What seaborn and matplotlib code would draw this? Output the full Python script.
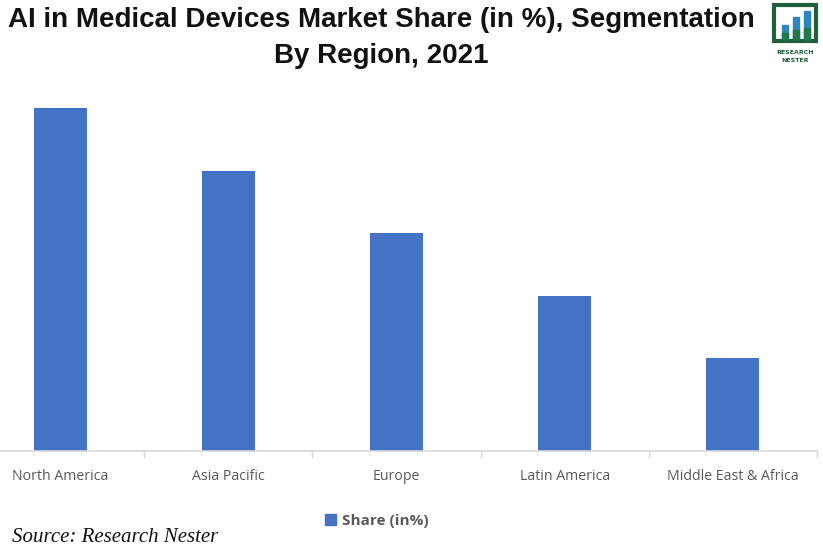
import matplotlib
matplotlib.use('Agg')
import matplotlib.pyplot as plt
import matplotlib.patches as mpatches
import seaborn as sns

regions = ['North America', 'Asia Pacific', 'Europe', 'Latin America', 'Middle East & Africa']
shares = [34.3, 28.0, 21.8, 15.5, 9.3]

sns.set_theme(style='white')
plt.rcParams['font.family'] = ['Open Sans', 'DejaVu Sans']

fig = plt.figure(figsize=(8.23, 5.47), dpi=100)
ax = fig.add_axes([-24 / 823, 96 / 547, 841 / 823, 363 / 547])

sns.barplot(x=regions, y=shares, color='#4472C4', width=0.315, saturation=1,
            linewidth=0, ax=ax)
ax.set_ylim(0, 36.3)
ax.set_xlim(-0.5, 4.5)
ax.set_xlabel('')
ax.set_ylabel('')
ax.set_yticks([])
for side in ['top', 'left', 'right']:
    ax.spines[side].set_visible(False)
ax.spines['bottom'].set_color('#D9D9D9')
ax.spines['bottom'].set_linewidth(1.2)
ax.set_xticks([0.5, 1.5, 2.5, 3.5, 4.5], minor=True)
ax.tick_params(axis='x', which='minor', length=5, color='#D9D9D9', width=1, bottom=True)
ax.tick_params(axis='x', which='major', length=0, pad=13, labelsize=10.2, labelcolor='#595959')

fig.text(0.463, 1 - 20 / 547, 'AI in Medical Devices Market Share (in %), Segmentation',
         ha='center', va='center', fontsize=20, fontweight='bold', color='#111111',
         family='Liberation Sans')
fig.text(0.463, 1 - 56 / 547, 'By Region, 2021',
         ha='center', va='center', fontsize=20, fontweight='bold', color='#111111',
         family='Liberation Sans')

handle = mpatches.Patch(color='#4472C4', label='Share (in%)')
leg = fig.legend(handles=[handle], loc='center', bbox_to_anchor=(0.458, 1 - 521 / 547),
                 frameon=False, handlelength=0.7, handleheight=0.7, handletextpad=0.4,
                 prop={'size': 11, 'weight': 'bold', 'family': 'Open Sans'})
for t in leg.get_texts():
    t.set_color('#595959')

fig.text(12 / 823, 1 - 537 / 547, 'Source: Research Nester', ha='left', va='center',
         fontsize=15, style='italic', family='Liberation Serif', color='#111111')

# logo
lx0, lx1, ly0, ly1 = 774 / 823, 816 / 823, 1 - 41 / 547, 1 - 5 / 547
frame = mpatches.Rectangle((lx0, ly0), lx1 - lx0, ly1 - ly0, transform=fig.transFigure,
                           fill=False, edgecolor='#1F5F3B', linewidth=3)
fig.add_artist(frame)
for bx, bh in [(782, 14), (793, 22), (804, 28)]:
    r = mpatches.Rectangle((bx / 823, ly0 + 2 / 547), 6 / 823, bh / 547,
                           transform=fig.transFigure, color='#2E86C1')
    fig.add_artist(r)
    r2 = mpatches.Rectangle((bx / 823, ly0 + 2 / 547), 6 / 823, bh * 0.4 / 547,
                            transform=fig.transFigure, color='#1F7A4A')
    fig.add_artist(r2)
fig.text(795 / 823, 1 - 52 / 547, 'RESEARCH', ha='center', va='center', fontsize=4.5,
         fontweight='bold', color='#1F5F3B', family='DejaVu Sans')
fig.text(795 / 823, 1 - 61 / 547, 'NESTER', ha='center', va='center', fontsize=4.5,
         fontweight='bold', color='#1F5F3B', family='DejaVu Sans')

fig.savefig('out.png', dpi=100)
